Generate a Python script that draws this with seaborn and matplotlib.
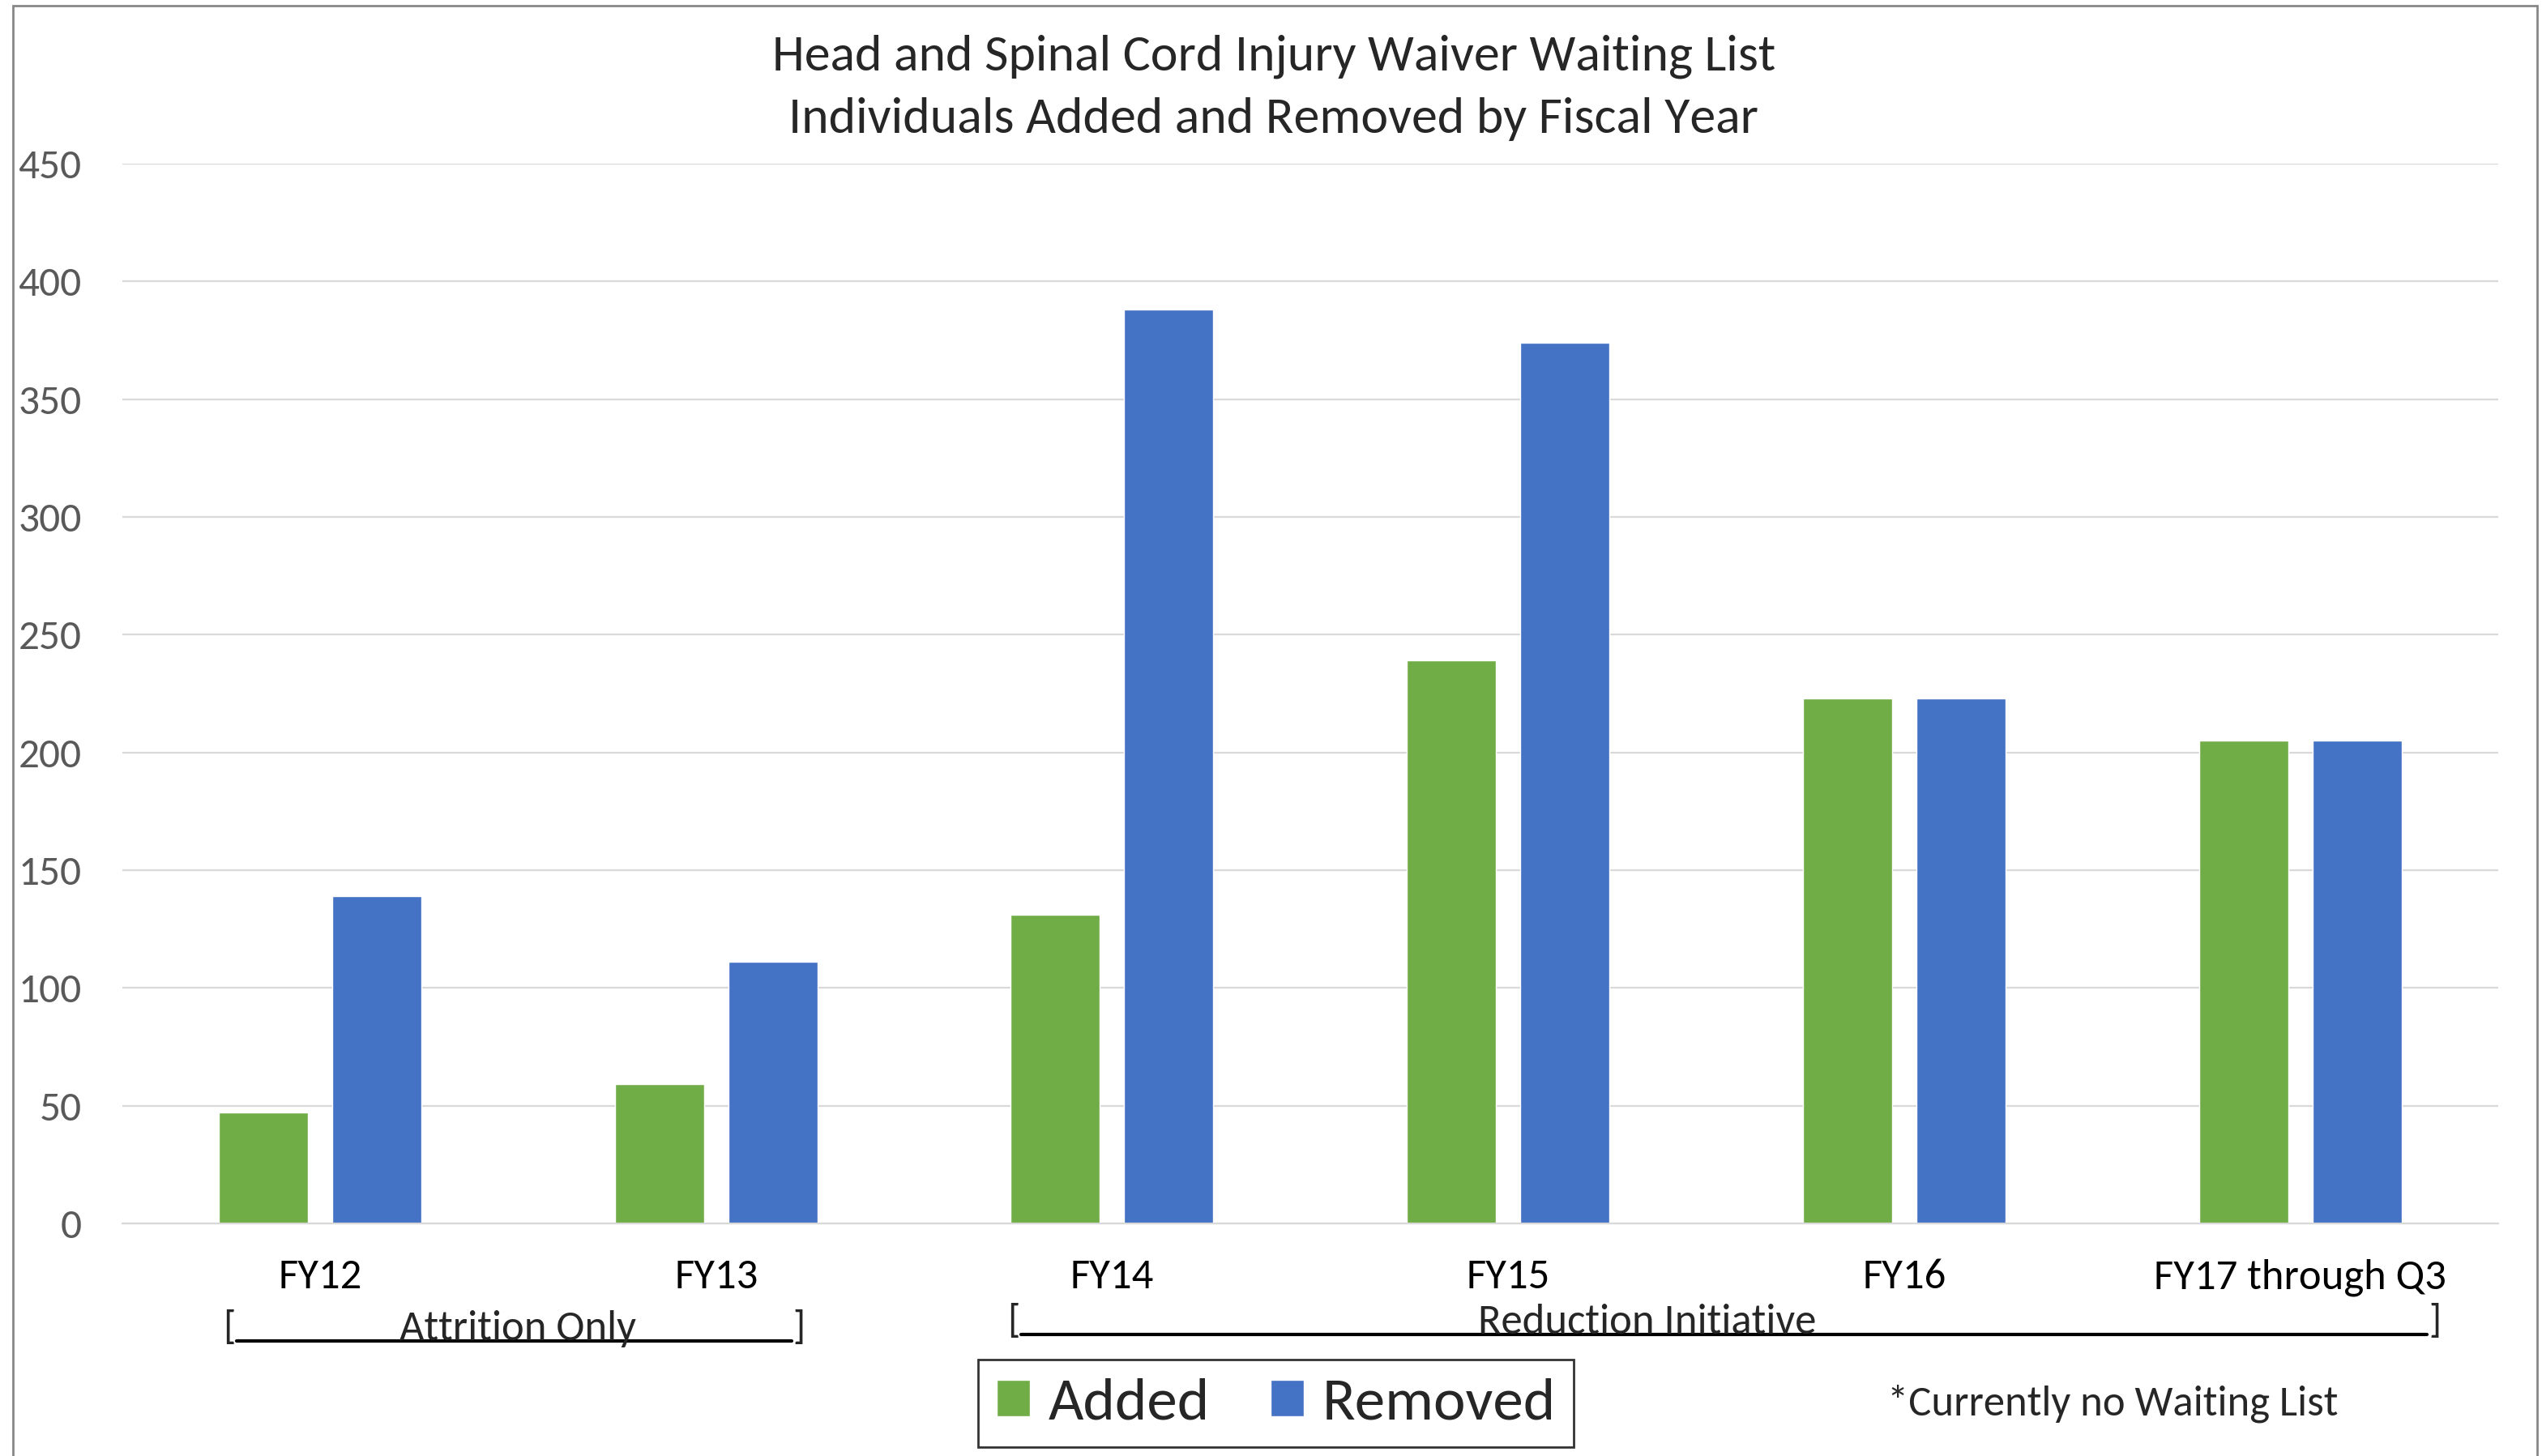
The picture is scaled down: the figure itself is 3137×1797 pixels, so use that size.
import pandas as pd
import matplotlib.pyplot as plt
import matplotlib.transforms as mtransforms
from matplotlib.patches import Rectangle
import seaborn as sns

# values
years = ['FY12', 'FY13', 'FY14', 'FY15', 'FY16', 'FY17 through Q3']
added = [47, 59, 131, 239, 223, 205]
removed = [139, 111, 388, 374, 223, 205]
yticks = [0, 50, 100, 150, 200, 250, 300, 350, 400, 450]

df = pd.DataFrame({'year': years * 2,
                   'count': added + removed,
                   'kind': ['Added'] * len(years) + ['Removed'] * len(years)})

sns.set_style('white')
plt.rcParams['font.family'] = ['Carlito', 'Lato', 'DejaVu Sans']

fig = plt.figure(figsize=(31.37, 17.97), dpi=100)
ax = fig.add_axes([0.048, 0.1597, 0.9348, 0.728])

sns.barplot(data=df, x='year', y='count', hue='kind', order=years,
            palette={'Added': '#70AD47', 'Removed': '#4472C4'},
            width=0.573, gap=0.214, saturation=1, ax=ax)

ax.set_ylim(0, 450)
ax.set_xlim(-0.5, len(years) - 0.5)
ax.set_yticks(yticks)
ax.yaxis.grid(True, color='#d9d9d9', linewidth=1.6)
ax.set_axisbelow(True)
for s in ['top', 'right', 'left']:
    ax.spines[s].set_visible(False)
ax.spines['bottom'].set_color('#d9d9d9')
ax.spines['bottom'].set_linewidth(1.6)
ax.tick_params(axis='y', length=0, pad=36, labelsize=37, labelcolor='#595959')
ax.tick_params(axis='x', length=0, pad=31, labelsize=38, labelcolor='black')
ax.set_xlabel('')
ax.set_ylabel('')

# title
fig.text(0.501, 0.961, 'Head and Spinal Cord Injury Waiver Waiting List',
         ha='center', va='center', fontsize=46)
fig.text(0.501, 0.918, 'Individuals Added and Removed by Fiscal Year',
         ha='center', va='center', fontsize=46)

# period brackets under the axis
trans = mtransforms.blended_transform_factory(ax.transData, fig.transFigure)
brackets = [(-0.23, 1.21, 0.50, 'Attrition Only', 0.0875, 0.0762),
            (1.75, 5.34, 3.35, 'Reduction Initiative', 0.092, 0.0807)]
for x0, x1, xc, label, ty, ly in brackets:
    ax.text(xc, ty, label, transform=trans, ha='center', va='center', fontsize=38)
    ax.text(x0, ly, '[', transform=trans, ha='center', va='bottom', fontsize=36)
    ax.text(x1, ly, ']', transform=trans, ha='center', va='bottom', fontsize=36)
    ax.plot([x0 + 0.02, x1 - 0.02], [ly + 0.003, ly + 0.003], transform=trans,
            color='black', linewidth=3, clip_on=False)

handles, labels = ax.get_legend_handles_labels()
ax.legend_.remove()
leg = fig.legend(handles, labels, loc='center', bbox_to_anchor=(0.502, 0.036),
                 ncol=2, fontsize=54, frameon=True, fancybox=False,
                 handlelength=0.55, handleheight=0.55, handletextpad=0.3,
                 columnspacing=1.0, borderpad=0.3, borderaxespad=0)
leg.get_frame().set_edgecolor('black')
leg.get_frame().set_linewidth(2)

fig.text(0.831, 0.036, '*Currently no Waiting List', ha='center', va='center',
         fontsize=38)

# outer chart border
fig.patches.append(Rectangle((0.005, -0.01), 0.993, 1.006, transform=fig.transFigure,
                             fill=False, edgecolor='#878787', linewidth=2))

fig.savefig('out.png', dpi=100)
